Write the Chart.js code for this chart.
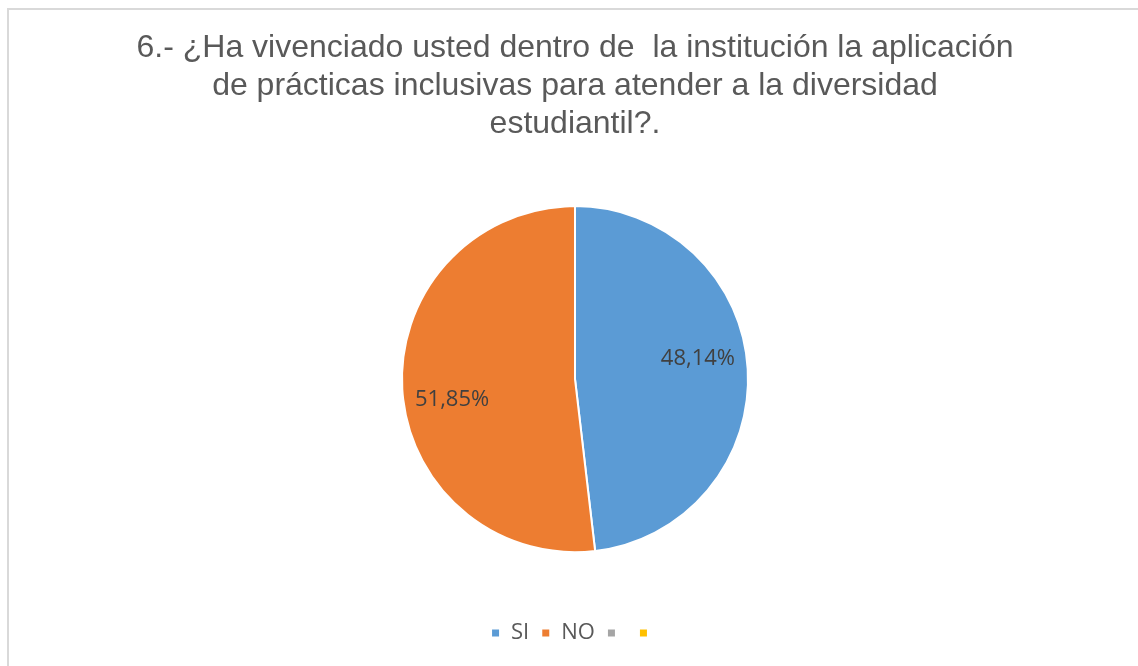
<!DOCTYPE html>
<html>
<head>
<meta charset="utf-8">
<script src="https://cdn.jsdelivr.net/npm/chart.js@4/dist/chart.umd.min.js"></script>
<style>
  html, body { margin: 0; padding: 0; background: #fff; overflow: hidden; }
  body { width: 1138px; height: 666px; position: relative; }
  #frame {
    position: absolute; left: 7px; top: 8px;
    width: 1132px; height: 660px;
    border: 2px solid #d9d9d9; background: #fff;
  }
  #frame canvas { display: block; }
</style>
</head>
<body>
<div id="frame"><canvas id="chart"></canvas></div>
<script>
const titleLines = [
  "6.- ¿Ha vivenciado usted dentro de  la institución la aplicación",
  "de prácticas inclusivas para atender a la diversidad",
  "estudiantil?."
]
const categories = ["SI", "NO", "", ""]
const percentages = [48.14, 51.85, 0, 0]
const sliceColors = ["#5b9bd5", "#ed7d31", "#a5a5a5", "#ffc000"]

const pctLabels = {
  id: "pctLabels",
  afterDatasetsDraw(chart) {
    const ctx = chart.ctx
    const meta = chart.getDatasetMeta(0)
    ctx.save()
    ctx.font = "22px 'Open Sans', sans-serif"
    ctx.fillStyle = "#404040"
    ctx.textAlign = "center"
    ctx.textBaseline = "middle"
    meta.data.forEach((arc, i) => {
      const v = percentages[i]
      if (!v) return
      // excel "best fit" sits a bit off the mid angle
      const mid = (arc.startAngle + arc.endAngle) / 2 - 0.105
      const r = arc.outerRadius * 0.72
      const x = arc.x + Math.cos(mid) * r
      const y = arc.y + Math.sin(mid) * r
      ctx.fillText(v.toFixed(2).replace(".", ",") + "%", x, y)
    })
    ctx.restore()
  }
}

new Chart(document.getElementById("chart"), {
  type: "pie",
  data: {
    labels: categories,
    datasets: [{
      data: percentages,
      backgroundColor: sliceColors,
      borderColor: "#ffffff",
      borderWidth: 2,
      radius: 173
    }]
  },
  options: {
    responsive: true,
    maintainAspectRatio: false,
    animation: false,
    layout: { padding: { top: 0, bottom: 16 } },
    plugins: {
      title: {
        display: true,
        text: titleLines,
        color: "#595959",
        font: { family: "'Liberation Sans', Arial, sans-serif", size: 32, weight: "normal", lineHeight: 1.19 },
        padding: { top: 19, bottom: 5 }
      },
      legend: {
        position: "bottom",
        labels: {
          color: "#595959",
          font: { family: "'Open Sans', sans-serif", size: 22 },
          boxWidth: 9,
          boxHeight: 9,
          padding: 12
        }
      },
      tooltip: { enabled: false }
    }
  },
  plugins: [pctLabels]
})
</script>
</body>
</html>
